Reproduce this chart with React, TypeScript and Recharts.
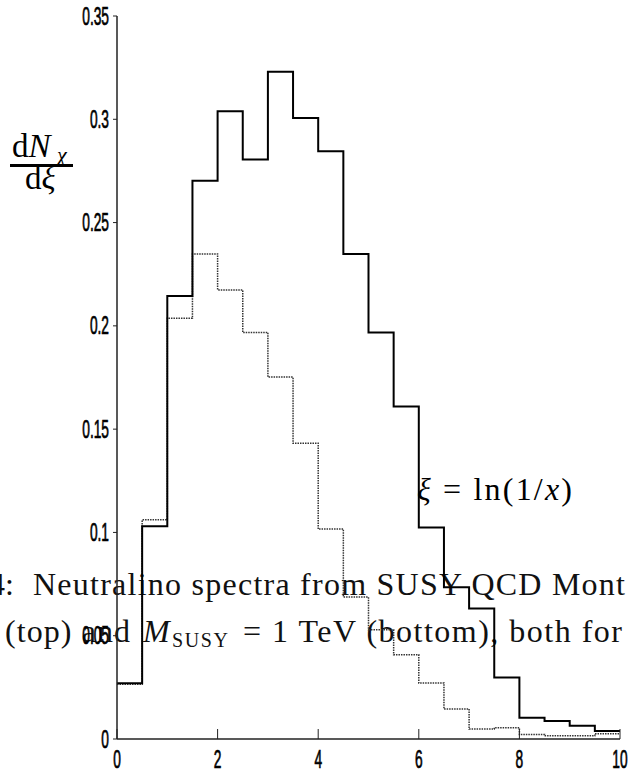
import React from "react";
import { LineChart, Line, XAxis, YAxis } from "recharts";

// xi = ln(1/x) bins, width 0.5
const binStarts = [0, 0.5, 1, 1.5, 2, 2.5, 3, 3.5, 4, 4.5, 5, 5.5, 6, 6.5, 7, 7.5, 8, 8.5, 9, 9.5];
const binEnd = 10;

// solid histogram
const solidValues = [
  0.027, 0.103, 0.2145, 0.2703, 0.3039, 0.2805, 0.323, 0.3006, 0.2845, 0.2348,
  0.1968, 0.161, 0.1024, 0.0735, 0.0632, 0.0298, 0.0103, 0.0087, 0.0064, 0.0039,
];
// dotted histogram
const dottedValues = [
  0.0265, 0.1061, 0.2037, 0.2348, 0.2174, 0.1968, 0.1752, 0.1432, 0.1016, 0.0687,
  0.0529, 0.0408, 0.0271, 0.0145, 0.0048, 0.0055, 0.0022, 0.0016, 0.0016, 0.0026,
];

const xTicks = [0, 2, 4, 6, 8, 10];
const yTicks = [0, 0.05, 0.1, 0.15, 0.2, 0.25, 0.3, 0.35];

const data = [
  ...binStarts.map((x, i) => ({ xi: x, solid: solidValues[i], dotted: dottedValues[i] })),
  { xi: binEnd, solid: solidValues[solidValues.length - 1], dotted: dottedValues[dottedValues.length - 1] },
];

const sans = "'Liberation Sans', Arial, sans-serif";
const serif = "'Liberation Serif', 'DejaVu Serif', serif";
const axisColor = "#222";

const BottomTick = (props: any) => {
  const { x, y, payload } = props;
  return (
    <g>
      <line x1={x} x2={x} y1={y} y2={y - 10} stroke={axisColor} strokeWidth={1} />
      <text
        transform={`translate(${x},${y + 29}) scale(0.55,1)`}
        textAnchor="middle"
        fontFamily={sans}
        fontSize={25}
        fill="#000"
        stroke="#000"
        strokeWidth={0.7}
      >
        {payload.value}
      </text>
    </g>
  );
};

const TopTick = (props: any) => {
  const { x, y } = props;
  return <line x1={x} x2={x} y1={y} y2={y + 10} stroke={axisColor} strokeWidth={1} />;
};

const LeftTick = (props: any) => {
  const { x, y, payload } = props;
  return (
    <g>
      <line x1={x} x2={x - 4} y1={y} y2={y} stroke={axisColor} strokeWidth={1} />
      <text
        transform={`translate(${x - 8},${y + 8.5}) scale(0.55,1)`}
        textAnchor="end"
        fontFamily={sans}
        fontSize={25}
        fill="#000"
        stroke="#000"
        strokeWidth={0.7}
      >
        {String(payload.value)}
      </text>
    </g>
  );
};

const RightTick = (props: any) => {
  const { x, y } = props;
  return <line x1={x} x2={x - 5} y1={y} y2={y} stroke={axisColor} strokeWidth={1} />;
};

export default function App() {
  return (
    <div style={{ position: "absolute", left: 0, top: 0, width: 628, height: 776, background: "#fff" }}>
      <svg width={628} height={776} style={{ position: "absolute", left: 0, top: 0 }}>
        {/* y label */}
        <text x={12} y={157} fontFamily={serif} fontSize={33} fill="#000">
          d<tspan fontStyle="italic">N</tspan>
        </text>
        <text x={57} y={162} fontFamily={serif} fontSize={22} fontStyle="italic" fill="#000">
          χ
        </text>
        <rect x={10} y={164} width={63} height={3} fill="#000" />
        <text x={25} y={189} fontFamily={serif} fontSize={33} fill="#000">
          d<tspan fontStyle="italic">ξ</tspan>
        </text>

        {/* x label */}
        <text x={417} y={500} fontFamily={serif} fontSize={32} fill="#000" textLength={155} lengthAdjust="spacing">
          <tspan fontStyle="italic">ξ</tspan> = ln(1/<tspan fontStyle="italic">x</tspan>)
        </text>

        {/* bleed-through caption text */}
        <text x={-11} y={595} fontFamily={serif} fontSize={32} fill="#111">
          4:
        </text>
        <text x={33} y={595} fontFamily={serif} fontSize={32} fill="#111" textLength={592} lengthAdjust="spacing">
          Neutralino spectra from SUSY QCD Mont
        </text>
        <text x={5} y={642} fontFamily={serif} fontSize={32} fill="#111" textLength={125} lengthAdjust="spacing">
          (top) and
        </text>
        <text x={143} y={642} fontFamily={serif} fontSize={32} fontStyle="italic" fill="#111">
          M
        </text>
        <text x={172} y={647} fontFamily={serif} fontSize={20} fill="#111" textLength={56} lengthAdjust="spacing">
          SUSY
        </text>
        <text x={243} y={642} fontFamily={serif} fontSize={32} fill="#111" textLength={379} lengthAdjust="spacing">
          = 1 TeV (bottom), both for
        </text>
      </svg>

      <div style={{ position: "absolute", left: 0, top: 0 }}>
        <LineChart width={628} height={776} data={data} margin={{ top: 16, right: 8, bottom: 7, left: 57 }}>
          <XAxis
            xAxisId="b"
            dataKey="xi"
            type="number"
            domain={[0, 10]}
            ticks={xTicks}
            interval={0}
            height={30}
            tickSize={0}
            tickMargin={0}
            tickLine={false}
            axisLine={{ stroke: axisColor, strokeWidth: 1.5 }}
            tick={<BottomTick />}
          />
          <XAxis
            xAxisId="t"
            orientation="top"
            dataKey="xi"
            type="number"
            domain={[0, 10]}
            ticks={xTicks}
            interval={0}
            height={0}
            tickSize={0}
            tickMargin={0}
            tickLine={false}
            axisLine={{ stroke: axisColor, strokeWidth: 1.5 }}
            tick={<TopTick />}
          />
          <YAxis
            yAxisId="l"
            type="number"
            domain={[0, 0.35]}
            ticks={yTicks}
            interval={0}
            width={60}
            tickSize={0}
            tickMargin={0}
            tickLine={false}
            axisLine={{ stroke: axisColor, strokeWidth: 1.5 }}
            tick={<LeftTick />}
          />
          <YAxis
            yAxisId="r"
            orientation="right"
            type="number"
            domain={[0, 0.35]}
            ticks={yTicks}
            interval={0}
            width={0}
            tickSize={0}
            tickMargin={0}
            tickLine={false}
            axisLine={{ stroke: axisColor, strokeWidth: 1.5 }}
            tick={<RightTick />}
          />
          <Line
            xAxisId="b"
            yAxisId="l"
            type="stepAfter"
            dataKey="dotted"
            stroke="#333"
            strokeWidth={1.5}
            strokeDasharray="1.5 1"
            dot={false}
            isAnimationActive={false}
          />
          <Line
            xAxisId="b"
            yAxisId="l"
            type="stepAfter"
            dataKey="solid"
            stroke="#000"
            strokeWidth={2}
            dot={false}
            isAnimationActive={false}
          />
        </LineChart>
      </div>
    </div>
  );
}
